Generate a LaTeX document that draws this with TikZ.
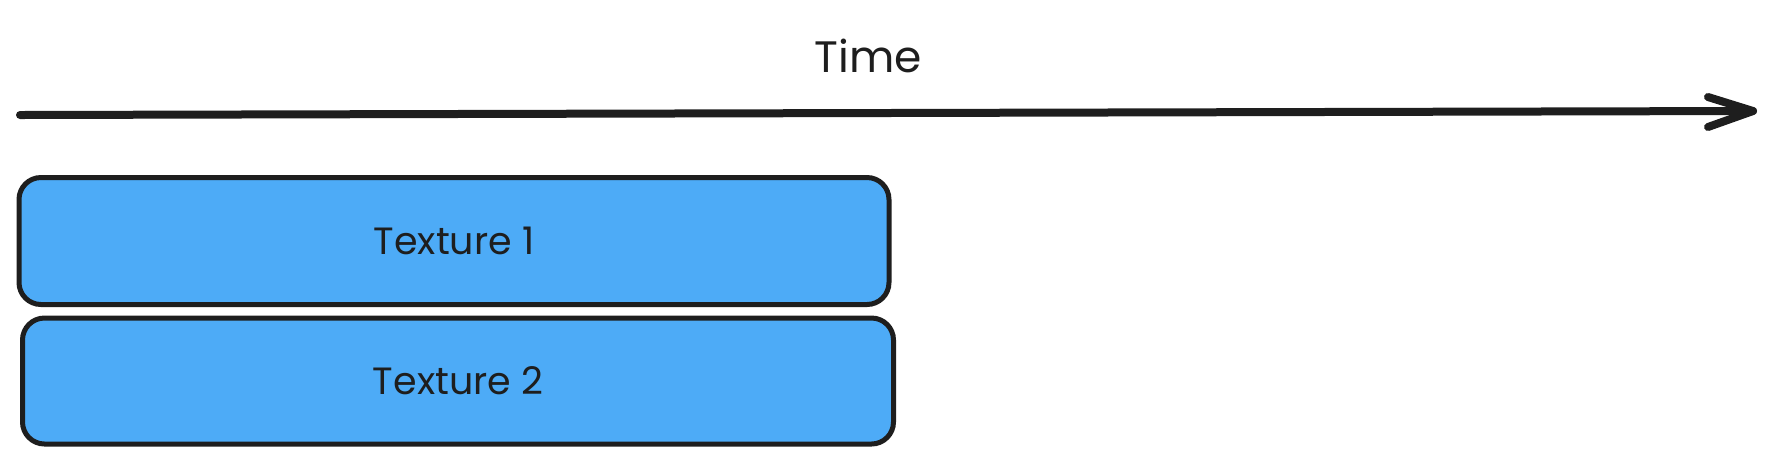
\documentclass[tikz,border=0pt]{standalone}
\usepackage{fontspec}
\setmainfont{Poppins}
\definecolor{ink}{HTML}{1E1E1E}
\definecolor{boxblue}{HTML}{4DABF7}
\begin{document}
\begin{tikzpicture}[x=0.5pt,y=-0.5pt,
  tbox/.style={draw=ink,fill=boxblue,line width=2.5pt,rounded corners=11pt,inner sep=0pt,font=\fontsize{19}{22}\selectfont,text=ink},
  axis/.style={draw=ink,line width=4pt,line cap=round,line join=round}]
\useasboundingbox (0,0) rectangle (1773,463);
\coordinate (tstart) at (20,115);
\coordinate (tend) at (1753,111);
\draw[axis] (tstart) -- (tend);
\coordinate (h1) at (1708,97);
\coordinate (h2) at (1708,127);
\draw[axis] (h1) -- (tend) -- (h2);
\node[font=\fontsize{22}{25}\selectfont,text=ink] (time) at (868,56) {Time};
\node[tbox,minimum width=870*0.5pt,minimum height=127*0.5pt] (t1) at (454,241) {Texture 1};
\node[tbox,minimum width=871*0.5pt,minimum height=126*0.5pt] (t2) at (458,381) {Texture 2};
\end{tikzpicture}
\end{document}
